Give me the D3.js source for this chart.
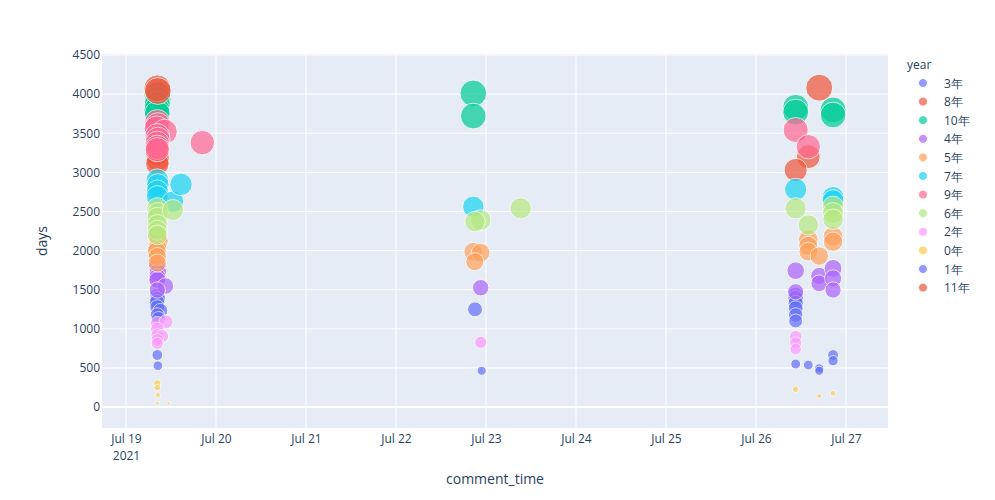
<!DOCTYPE html>
<meta charset="utf-8">
<script src="https://d3js.org/d3.v7.min.js"></script>
<style>
  body { margin: 0; background: #fff; }
  text { font-family: "Open Sans", verdana, arial, sans-serif; fill: #2a3f5f; }
</style>
<div id="my_dataviz"></div>
<script>
  // legend / drawing order of the year traces
  var yearOrder = ["3年", "8年", "10年", "4年", "5年", "7年", "9年", "6年", "2年", "0年", "1年", "11年"];
  var yearColors = ["#636efa", "#EF553B", "#00cc96", "#ab63fa", "#FFA15A", "#19d3f3", "#FF6692", "#B6E880", "#FF97FF", "#FECB52", "#636efa", "#EF553B"];

  // [comment_time, days] for every year group
  var y3 = [["2021-07-19 08:21", 1420], ["2021-07-19 08:30", 1380], ["2021-07-19 08:15", 1340], ["2021-07-19 08:21", 1275],
    ["2021-07-19 09:10", 1230], ["2021-07-19 08:21", 1176], ["2021-07-19 08:40", 1130], ["2021-07-22 21:04", 1249],
    ["2021-07-26 10:35", 1430], ["2021-07-26 10:35", 1390], ["2021-07-26 10:35", 1330], ["2021-07-26 10:35", 1262],
    ["2021-07-26 10:35", 1176], ["2021-07-26 10:35", 1100]];
  var y8 = [["2021-07-19 08:21", 3240], ["2021-07-19 08:30", 3160], ["2021-07-19 08:21", 3110],
    ["2021-07-26 13:57", 3200], ["2021-07-26 10:35", 3030]];
  var y10 = [["2021-07-19 08:21", 3990], ["2021-07-19 08:30", 3930], ["2021-07-19 08:21", 3870], ["2021-07-19 08:15", 3800],
    ["2021-07-19 08:21", 3750], ["2021-07-22 20:37", 4010], ["2021-07-22 20:37", 3720],
    ["2021-07-26 10:35", 3830], ["2021-07-26 10:35", 3770], ["2021-07-26 20:33", 3797], ["2021-07-26 20:33", 3733]];
  var y4 = [["2021-07-19 08:21", 1800], ["2021-07-19 08:30", 1720], ["2021-07-19 08:21", 1660], ["2021-07-19 08:21", 1624],
    ["2021-07-19 10:30", 1547], ["2021-07-19 08:21", 1496], ["2021-07-22 22:35", 1525],
    ["2021-07-26 10:35", 1743], ["2021-07-26 10:35", 1474], ["2021-07-26 16:52", 1675], ["2021-07-26 16:52", 1581],
    ["2021-07-26 20:33", 1773], ["2021-07-26 20:33", 1645], ["2021-07-26 20:33", 1496]];
  var y5 = [["2021-07-19 08:21", 2180], ["2021-07-19 08:40", 2120], ["2021-07-19 08:21", 2033], ["2021-07-19 08:10", 1990],
    ["2021-07-19 08:21", 1922], ["2021-07-19 08:21", 1840], ["2021-07-22 20:37", 1985], ["2021-07-22 22:35", 1973],
    ["2021-07-22 21:00", 1858], ["2021-07-26 13:57", 2140], ["2021-07-26 13:57", 2060], ["2021-07-26 13:57", 1986],
    ["2021-07-26 16:52", 1930], ["2021-07-26 20:33", 2180], ["2021-07-26 20:33", 2113]];
  var y7 = [["2021-07-19 08:21", 2900], ["2021-07-19 08:30", 2840], ["2021-07-19 08:21", 2760], ["2021-07-19 08:21", 2690],
    ["2021-07-19 12:31", 2625], ["2021-07-19 14:40", 2847], ["2021-07-22 20:37", 2560],
    ["2021-07-26 10:35", 2783], ["2021-07-26 20:33", 2681], ["2021-07-26 20:33", 2640]];
  var y9 = [["2021-07-19 08:21", 3640], ["2021-07-19 08:30", 3600], ["2021-07-19 08:10", 3560], ["2021-07-19 10:20", 3520],
    ["2021-07-19 08:21", 3465], ["2021-07-19 08:30", 3420], ["2021-07-19 08:21", 3370], ["2021-07-19 08:21", 3320],
    ["2021-07-19 08:21", 3290], ["2021-07-19 20:21", 3380], ["2021-07-26 10:35", 3541], ["2021-07-26 13:57", 3328]];
  var y6 = [["2021-07-19 08:21", 2540], ["2021-07-19 08:30", 2480], ["2021-07-19 08:21", 2420], ["2021-07-19 08:21", 2330],
    ["2021-07-19 08:21", 2260], ["2021-07-19 08:21", 2200], ["2021-07-19 12:31", 2518],
    ["2021-07-23 09:16", 2540], ["2021-07-22 22:35", 2390], ["2021-07-22 21:04", 2370],
    ["2021-07-26 10:35", 2540], ["2021-07-26 13:57", 2327], ["2021-07-26 20:33", 2560], ["2021-07-26 20:33", 2480],
    ["2021-07-26 20:33", 2400]];
  var y2 = [["2021-07-19 08:21", 1070], ["2021-07-19 10:40", 1090], ["2021-07-19 08:21", 1000], ["2021-07-19 08:21", 920],
    ["2021-07-19 09:40", 907], ["2021-07-19 08:21", 860], ["2021-07-19 08:21", 814], ["2021-07-22 22:35", 827],
    ["2021-07-26 10:35", 899], ["2021-07-26 10:35", 820], ["2021-07-26 10:35", 741]];
  var y0 = [["2021-07-19 08:21", 303], ["2021-07-19 08:21", 247], ["2021-07-19 08:30", 153], ["2021-07-19 08:21", 47],
    ["2021-07-19 11:17", 47], ["2021-07-26 10:35", 226], ["2021-07-26 16:52", 141], ["2021-07-26 20:33", 175]];
  var y1 = [["2021-07-19 08:21", 665], ["2021-07-19 08:30", 528], ["2021-07-22 22:51", 464],
    ["2021-07-26 10:35", 550], ["2021-07-26 13:57", 537], ["2021-07-26 16:52", 494], ["2021-07-26 16:52", 464],
    ["2021-07-26 20:33", 665], ["2021-07-26 20:33", 592]];
  var y11 = [["2021-07-19 08:21", 4074], ["2021-07-19 08:30", 4040], ["2021-07-26 16:52", 4082]];

  var yearData = [y3, y8, y10, y4, y5, y7, y9, y6, y2, y0, y1, y11];

  var xRange = ["2021-07-18 17:36", "2021-07-27 11:12"];
  var yRange = [-268, 4513];
  var yTicks = [0, 500, 1000, 1500, 2000, 2500, 3000, 3500, 4000, 4500];

  // plot area
  var margin = { top: 54, right: 107, bottom: 72, left: 102 },
    W = 995, H = 500,
    width = W - margin.left - margin.right,
    height = H - margin.top - margin.bottom;

  var parse = d3.utcParse("%Y-%m-%d %H:%M");

  var svg = d3.select("#my_dataviz")
    .append("svg")
    .attr("width", W)
    .attr("height", H);

  var g = svg.append("g")
    .attr("transform", "translate(" + margin.left + "," + margin.top + ")");

  g.append("rect")
    .attr("width", width)
    .attr("height", height)
    .attr("fill", "#E5ECF6");

  var x = d3.scaleUtc()
    .domain(xRange.map(parse))
    .range([0, width]);

  var y = d3.scaleLinear()
    .domain(yRange)
    .range([height, 0]);

  var r = d3.scaleSqrt()
    .domain([0, 4090])
    .range([0, 13.5]);

  var xTicks = x.ticks(d3.utcDay.every(1));

  // grid
  g.selectAll("xgrid")
    .data(xTicks)
    .enter()
    .append("line")
    .attr("x1", function (d) { return x(d); })
    .attr("x2", function (d) { return x(d); })
    .attr("y1", 0)
    .attr("y2", height)
    .attr("stroke", "#fff")
    .attr("stroke-width", 1);

  g.selectAll("ygrid")
    .data(yTicks)
    .enter()
    .append("line")
    .attr("x1", 0)
    .attr("x2", width)
    .attr("y1", function (d) { return y(d); })
    .attr("y2", function (d) { return y(d); })
    .attr("stroke", "#fff")
    .attr("stroke-width", function (d) { return d === 0 ? 2 : 1; });

  // x axis
  var xAxis = g.append("g")
    .attr("transform", "translate(0," + height + ")")
    .call(d3.axisBottom(x).tickValues(xTicks).tickFormat(d3.utcFormat("%b %d")).tickSize(0).tickPadding(0));
  xAxis.select(".domain").remove();
  xAxis.selectAll("text")
    .attr("y", 15)
    .attr("dy", 0)
    .style("font-size", "12px")
    .attr("fill", "#2a3f5f");
  xAxis.selectAll(".tick").filter(function (d, i) { return i === 0; })
    .select("text")
    .append("tspan")
    .attr("x", 0)
    .attr("dy", 17)
    .text("2021");

  // y axis
  var yAxis = g.append("g")
    .call(d3.axisLeft(y).tickValues(yTicks).tickFormat(d3.format("d")).tickSize(0).tickPadding(2));
  yAxis.select(".domain").remove();
  yAxis.selectAll("text")
    .style("font-size", "12px")
    .attr("fill", "#2a3f5f");

  // bubbles
  svg.append("clipPath").attr("id", "clip")
    .append("rect").attr("width", width).attr("height", height);

  var marks = g.append("g").attr("clip-path", "url(#clip)");
  yearData.forEach(function (rows, k) {
    marks.selectAll("dot" + k)
      .data(rows)
      .enter()
      .append("circle")
      .attr("cx", function (d) { return x(parse(d[0])); })
      .attr("cy", function (d) { return y(d[1]); })
      .attr("r", function (d) { return Math.max(r(d[1]), 1.8); })
      .attr("fill", yearColors[k])
      .attr("stroke", "#fff")
      .attr("stroke-width", 1)
      .attr("opacity", 0.7);
  });

  // axis titles
  svg.append("text")
    .attr("x", margin.left + width / 2)
    .attr("y", 484)
    .attr("text-anchor", "middle")
    .style("font-size", "14px")
    .text("comment_time");

  svg.append("text")
    .attr("transform", "translate(47," + (margin.top + height / 2) + ") rotate(-90)")
    .attr("text-anchor", "middle")
    .style("font-size", "14px")
    .text("days");

  // legend
  var legend = svg.append("g").attr("transform", "translate(907,0)");
  legend.append("text")
    .attr("x", 0)
    .attr("y", 69)
    .style("font-size", "12px")
    .text("year");

  var items = legend.selectAll("item")
    .data(yearOrder)
    .enter()
    .append("g")
    .attr("transform", function (d, i) { return "translate(0," + (83 + i * 18.6) + ")"; });
  items.append("circle")
    .attr("cx", 16)
    .attr("cy", 0)
    .attr("r", 4.5)
    .attr("fill", function (d, i) { return yearColors[i]; })
    .attr("stroke", "#fff")
    .attr("stroke-width", 1)
    .attr("opacity", 0.7);
  items.append("text")
    .attr("x", 37)
    .attr("y", 4.5)
    .style("font-size", "12px")
    .text(function (d) { return d; });
</script>
